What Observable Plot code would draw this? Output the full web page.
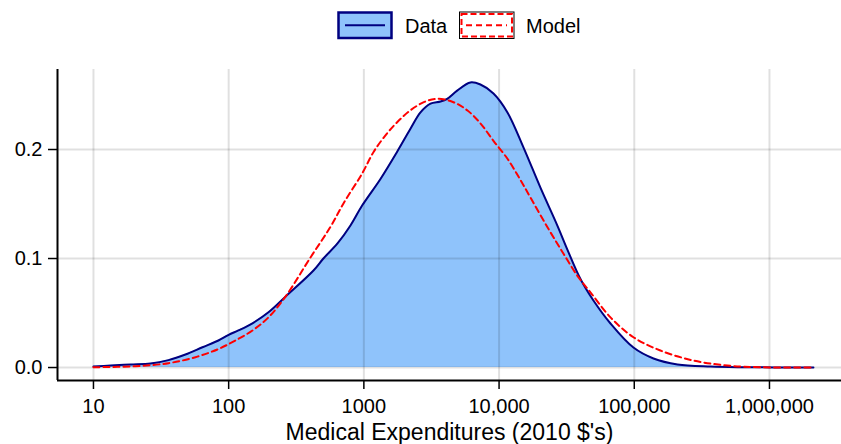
<!DOCTYPE html>
<html>
<head>
<meta charset="utf-8">
<script src="https://cdn.jsdelivr.net/npm/d3@7"></script>
<script src="https://cdn.jsdelivr.net/npm/@observablehq/plot@0.6"></script>
<style>
  html, body { margin: 0; padding: 0; background: #fff; }
  #wrap { position: relative; width: 841px; height: 444px; font-family: "Liberation Sans", Arial, Helvetica, sans-serif; }
  #legend { position: absolute; left: 0; top: 0; }
</style>
</head>
<body>
<div id="wrap"></div>
<script>
// Medical expenditures (2010 $) – density of data vs model
const dataX = [10, 13.4, 18.8, 26.4, 35.9, 47.9, 64, 84, 100, 118, 150, 197, 263, 424, 502, 638, 796, 971, 1327, 1763, 2211, 2623, 3110, 3690, 4130, 4898, 6140, 7280, 9090, 11540, 15200, 20230, 27040, 32060, 40000, 49900, 66700, 98600, 138700, 208800, 366400, 642000, 2115000];
const dataY = [0.001, 0.0018, 0.0028, 0.0037, 0.0068, 0.0119, 0.0186, 0.0248, 0.030, 0.034, 0.0406, 0.0507, 0.065, 0.089, 0.100, 0.1138, 0.1303, 0.1486, 0.173, 0.198, 0.219, 0.234, 0.242, 0.244, 0.2465, 0.254, 0.2615, 0.2596, 0.2514, 0.234, 0.2015, 0.165, 0.130, 0.108, 0.0812, 0.0615, 0.0404, 0.0183, 0.0083, 0.0028, 0.0009, 0.0003, 0.0];

const modelX = [10, 20.5, 35.9, 56.8, 84, 112, 150, 197, 263, 403, 566, 710, 971, 1183, 1445, 1763, 2211, 2775, 3486, 4600, 5840, 7280, 9090, 11540, 14400, 17060, 22800, 29900, 38600, 47400, 66700, 98600, 156000, 274000, 489000, 857000, 2115000];
const modelY = [0.0003, 0.0012, 0.004, 0.0095, 0.017, 0.0248, 0.034, 0.046, 0.065, 0.101, 0.129, 0.151, 0.178, 0.198, 0.213, 0.225, 0.236, 0.2434, 0.2465, 0.2434, 0.2358, 0.224, 0.208, 0.1915, 0.172, 0.156, 0.1287, 0.1046, 0.0829, 0.069, 0.046, 0.0278, 0.0156, 0.0064, 0.0018, 0.0003, 0.0];

const xTicks = [10, 100, 1000, 10000, 100000, 1000000];
const xTickLabels = ["10", "100", "1000", "10,000", "100,000", "1,000,000"];
const yTicks = [0, 0.1, 0.2];
const yTickLabels = ["0.0", "0.1", "0.2"];
const xTitle = "Medical Expenditures (2010 $'s)";
const legendLabels = ["Data", "Model"];

const data = dataX.map((x, i) => ({x, y: dataY[i]}));
const model = modelX.map((x, i) => ({x, y: modelY[i]}));

const xMin = 5.42, xMax = 3.41e6, yMin = -0.0119, yMax = 0.2734;
const gridStyle = {stroke: "#000", strokeOpacity: 0.12, strokeWidth: 2};
const curve = "catmull-rom";

const chart = Plot.plot({
  width: 841,
  height: 444,
  marginLeft: 57,
  marginRight: 0,
  marginTop: 69,
  marginBottom: 64,
  style: {fontFamily: "'Liberation Sans', Arial, Helvetica, sans-serif", fontSize: "20px", color: "#000", background: "transparent", overflow: "visible"},
  x: {type: "log", domain: [xMin, xMax]},
  y: {domain: [yMin, yMax]},
  marks: [
    Plot.areaY(data, {x: "x", y: "y", fill: "#8fc3fb", curve}),
    Plot.ruleX(xTicks, gridStyle),
    Plot.ruleY(yTicks, gridStyle),
    Plot.line(data, {x: "x", y: "y", stroke: "#000080", strokeWidth: 2, curve}),
    Plot.line(model, {x: "x", y: "y", stroke: "#ff0000", strokeWidth: 2, strokeDasharray: "6,4", curve}),
    Plot.ruleY([yMin], {stroke: "#000", strokeWidth: 2}),
    Plot.ruleX([xMin], {stroke: "#000", strokeWidth: 2}),
    Plot.axisX(xTicks, {tickFormat: d => xTickLabels[xTicks.indexOf(d)], tickSize: 9, tickPadding: 9, fontSize: 20, strokeWidth: 1.5, label: null}),
    Plot.axisY(yTicks, {tickFormat: d => yTickLabels[yTicks.indexOf(d)], tickSize: 9, tickPadding: 6, fontSize: 20, strokeWidth: 1.5, label: null}),
    Plot.text([xTitle], {frameAnchor: "bottom", dy: 52, lineAnchor: "middle", textAnchor: "middle", fontSize: 23, fill: "#000"})
  ]
});

const wrap = document.getElementById("wrap");
wrap.appendChild(chart);

// Legend overlay above the chart
const ns = "http://www.w3.org/2000/svg";
const lg = document.createElementNS(ns, "svg");
lg.setAttribute("id", "legend");
lg.setAttribute("width", 841);
lg.setAttribute("height", 50);
function el(tag, attrs, parent) {
  const e = document.createElementNS(ns, tag);
  for (const k in attrs) e.setAttribute(k, attrs[k]);
  parent.appendChild(e);
  return e;
}
// Data swatch
el("rect", {x: 338.5, y: 12.5, width: 53, height: 25.5, fill: "#8fc3fb", stroke: "#000080", "stroke-width": 2.5}, lg);
el("line", {x1: 345, x2: 385, y1: 25.3, y2: 25.3, stroke: "#000080", "stroke-width": 2}, lg);
const t1 = el("text", {x: 405, y: 32.5, "font-size": 20, "font-family": "'Liberation Sans', Arial, sans-serif", fill: "#000"}, lg);
t1.textContent = legendLabels[0];
// Model swatch
el("rect", {x: 459.5, y: 12, width: 54.5, height: 26.5, fill: "#fff", stroke: "#000", "stroke-width": 1}, lg);
el("rect", {x: 461.5, y: 14, width: 50.5, height: 22.5, fill: "none", stroke: "#ff0000", "stroke-width": 2, "stroke-dasharray": "6,3"}, lg);
el("line", {x1: 466, x2: 507, y1: 25.3, y2: 25.3, stroke: "#ff0000", "stroke-width": 2, "stroke-dasharray": "6,4"}, lg);
const t2 = el("text", {x: 526, y: 32.5, "font-size": 20, "font-family": "'Liberation Sans', Arial, sans-serif", fill: "#000"}, lg);
t2.textContent = legendLabels[1];
wrap.appendChild(lg);
</script>
</body>
</html>
